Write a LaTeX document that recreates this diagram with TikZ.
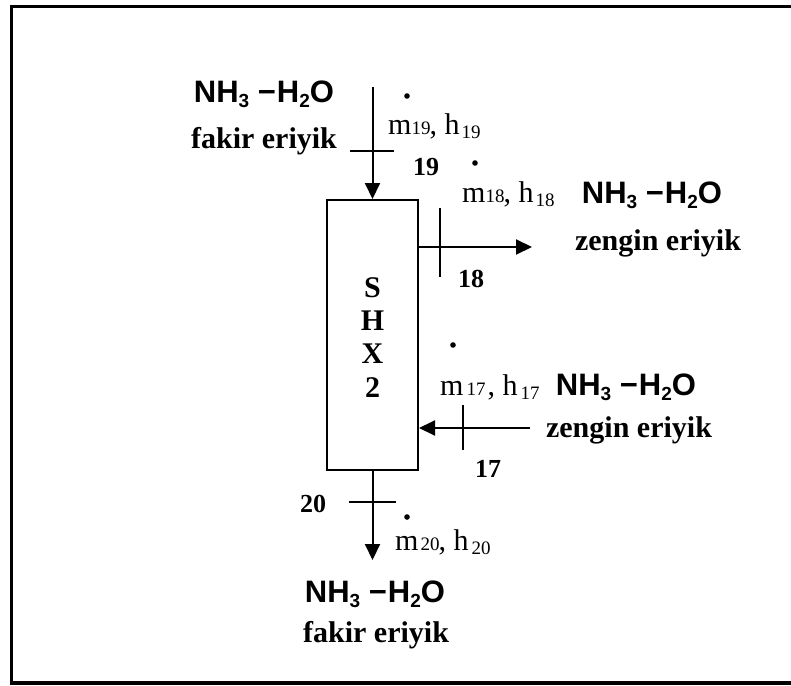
\documentclass[tikz,border=0pt]{standalone}
\usepackage{fontspec}
\setmainfont{Liberation Serif}
\newfontfamily\chemfont{Liberation Sans}
\usetikzlibrary{arrows.meta}
\newcommand\chemsub[1]{\raisebox{-5pt}{\fontsize{19}{19}\selectfont #1}}
\newcommand\chemtxt{NH\chemsub{3} \kern0pt\symbol{"2212}\kern1ptH\chemsub{2}O}
\newcommand\fsub[1]{{\fontsize{19}{19}\selectfont #1}}
\newcommand\fsubl[1]{\raisebox{-4.5pt}{\fontsize{19}{19}\selectfont #1}}
\tikzset{
  unit/.style={x=1pt,y=-1pt},
  thick line/.style={line width=2pt},
  flowarrow/.style={line width=2pt,-{Triangle[length=16pt,width=15pt]}},
  chem/.style={font=\chemfont\bfseries\fontsize{31}{32}\selectfont,inner sep=0pt,anchor=base},
  sol/.style={font=\bfseries\fontsize{30}{30}\selectfont,inner sep=0pt,anchor=base},
  num/.style={font=\bfseries\fontsize{26}{30}\selectfont,inner sep=0pt,anchor=base},
  big/.style={font=\bfseries\fontsize{30}{30}\selectfont,inner sep=0pt,anchor=base},
  flow/.style={font=\fontsize{30}{30}\selectfont,inner sep=0pt,anchor=base west},
  mdot/.style={fill=black},
  box/.style={draw,line width=2pt,minimum width=91pt,minimum height=270pt,inner sep=0pt}
}
\begin{document}
\begin{tikzpicture}[unit]
\useasboundingbox (0,0) rectangle (791,685);
% frame
\draw[line width=3.5pt] (791,6.5) -- (11.5,6.5) -- (11.5,683) -- (791,683);
% SHX2 box
\node[box] (shx) at (372.5,335) {};
\node[big] (l1) at (372.5,297) {S};
\node[big] (l2) at (372.5,330) {H};
\node[big] (l3) at (372.5,363) {X};
\node[big] (l4) at (372.5,397) {2};
% stream 19 (in, top)
\coordinate (in19) at (372.5,87);
\draw[flowarrow] (in19) -- (shx.north);
\coordinate (t19a) at (350,151);
\coordinate (t19b) at (394,151);
\draw[thick line] (t19a) -- (t19b);
\node[chem] (c19) at (264,102) {\chemtxt};
\node[sol] (s19) at (264,148) {fakir eriyik};
\node[num] (n19) at (426,175) {19};
\node[flow] (f19) at (388,134) {m\fsub{19}\kern-1pt, h\kern2pt\fsubl{19}};
\fill[mdot] (407,96) circle (2.8pt);
% stream 18 (out, right)
\coordinate (out18) at (532,247);
\draw[flowarrow] (shx.east |- out18) -- (out18);
\coordinate (t18a) at (440,208);
\coordinate (t18b) at (440,277);
\draw[thick line] (t18a) -- (t18b);
\node[chem] (c18) at (652,203) {\chemtxt};
\node[sol] (s18) at (658,250) {zengin eriyik};
\node[num] (n18) at (471,287) {18};
\node[flow] (f18) at (462,202) {m\fsub{18}\kern-1pt, h\kern2pt\fsubl{18}};
\fill[mdot] (475,163) circle (2.8pt);
% stream 17 (in, right)
\coordinate (in17) at (530,428);
\draw[flowarrow] (in17) -- (shx.east |- in17);
\coordinate (t17a) at (463,405);
\coordinate (t17b) at (463,450);
\draw[thick line] (t17a) -- (t17b);
\node[chem] (c17) at (626,395) {\chemtxt};
\node[sol] (s17) at (629,437) {zengin eriyik};
\node[num] (n17) at (488,477) {17};
\node[flow] (f17) at (440,395) {m\kern3pt\fsub{17}\kern2pt, h\kern3pt\fsubl{17}};
\fill[mdot] (453,345) circle (2.8pt);
% stream 20 (out, bottom)
\coordinate (out20) at (372.5,560);
\draw[flowarrow] (shx.south) -- (out20);
\coordinate (t20a) at (349,502);
\coordinate (t20b) at (396,502);
\draw[thick line] (t20a) -- (t20b);
\node[chem] (c20) at (375,602) {\chemtxt};
\node[sol] (s20) at (376,642) {fakir eriyik};
\node[num] (n20) at (313,512) {20};
\node[flow] (f20) at (395,550) {m\kern2pt\fsub{20}\kern-1pt, h\kern3pt\fsubl{20}};
\fill[mdot] (407,517) circle (2.8pt);
\end{tikzpicture}
\end{document}
